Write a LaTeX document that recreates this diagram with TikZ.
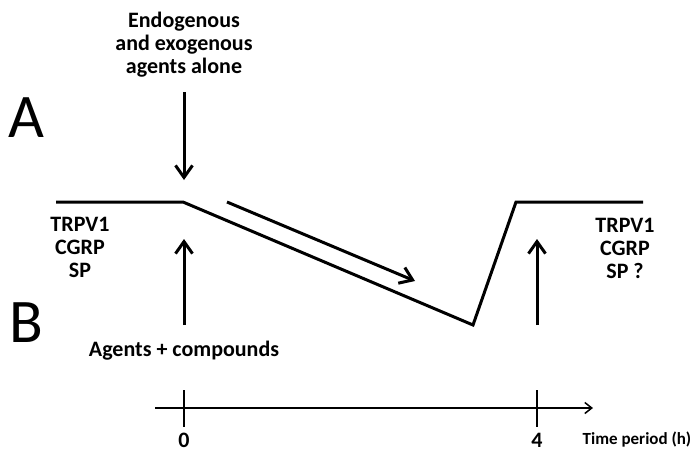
\documentclass[tikz,border=0pt]{standalone}
\usepackage{fontspec}
\setmainfont{Carlito}
\usetikzlibrary{arrows.meta}
\tikzset{
  lbl/.style={font=\bfseries\fontsize{22}{23}\selectfont, align=center, inner sep=0pt},
  big/.style={font=\fontsize{62}{62}\selectfont, inner sep=0pt},
  small/.style={font=\bfseries\fontsize{17}{19}\selectfont, inner sep=0pt},
  curve/.style={line width=3pt, line join=miter},
  thickarrow/.style={line width=3pt, -{Straight Barb[length=12pt, width=17pt, line width=3pt]}},
  axisarrow/.style={line width=1.5pt, -{Straight Barb[length=7pt, width=11pt, line width=1.5pt]}},
  tick/.style={line width=2.2pt}
}
\begin{document}
\begin{tikzpicture}[x=1pt,y=-1pt]
\useasboundingbox (0,0) rectangle (694,450);
% labels
\node[lbl] (top) at (184,45) {Endogenous\\and exogenous\\agents alone};
\node[big] (A) at (26,118) {A};
\node[big] (B) at (26,323) {B};
\node[lbl] (left) at (80,247) {TRPV1\\CGRP\\SP};
\node[lbl] (right) at (625,248) {TRPV1\\CGRP\\SP ?};
\node[lbl] (agents) at (184,351) {Agents + compounds};
% curve
\coordinate (c0) at (56,202);
\coordinate (c1) at (183,202);
\coordinate (c2) at (473,325);
\coordinate (c3) at (516,202);
\coordinate (c4) at (643,202);
\draw[curve] (c0) -- (c1) -- (c2) -- (c3) -- (c4);
% arrows
\coordinate (dTop) at (184,92);
\coordinate (dBot) at (184,180);
\draw[thickarrow] (dTop) -- (dBot);
\coordinate (sA) at (227,202);
\coordinate (sB) at (415,281);
\draw[thickarrow] (sA) -- (sB);
\coordinate (uL0) at (184,325);
\coordinate (uL1) at (184,239);
\draw[thickarrow] (uL0) -- (uL1);
\coordinate (uR0) at (537,325);
\coordinate (uR1) at (537,239);
\draw[thickarrow] (uR0) -- (uR1);
% time axis
\coordinate (ax0) at (155,408);
\coordinate (ax1) at (593,408);
\draw[axisarrow] (ax0) -- (ax1);
\coordinate (t0a) at (184,390);
\coordinate (t0b) at (184,427);
\draw[tick] (t0a) -- (t0b);
\coordinate (t4a) at (537,390);
\coordinate (t4b) at (537,427);
\draw[tick] (t4a) -- (t4b);
\node[lbl] (zero) at (184,440) {0};
\node[lbl] (four) at (537,440) {4};
\node[small] (time) at (637,440) {Time period (h)};
\end{tikzpicture}
\end{document}
